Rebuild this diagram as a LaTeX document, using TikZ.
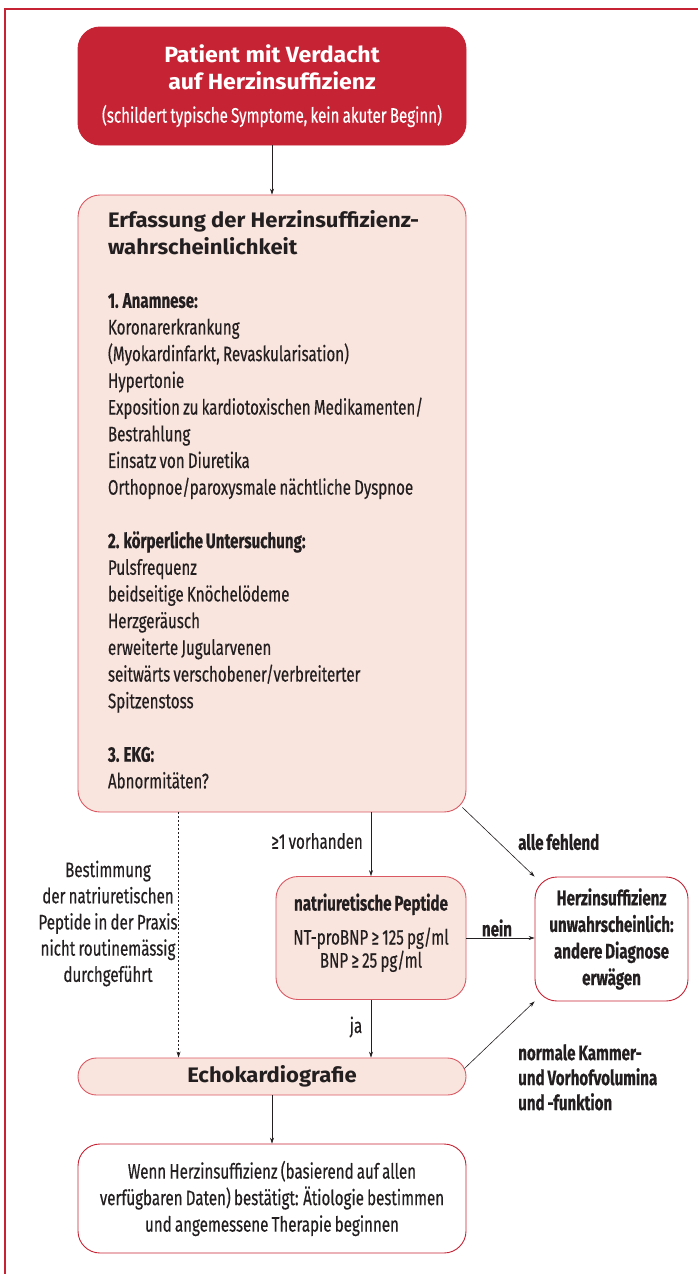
\documentclass[tikz,border=0pt]{standalone}
\usepackage{fontspec}
\setmainfont{Fira Sans}[FakeStretch=0.72,WordSpace=0.8,FakeBold=0.4]
\newfontfamily\widefont{Fira Sans}[FakeStretch=1.05]
\usetikzlibrary{arrows.meta}
\definecolor{hfred}{RGB}{198,35,52}
\definecolor{hfpink}{RGB}{249,229,222}
\definecolor{hfline}{RGB}{218,88,98}
\definecolor{hftext}{RGB}{35,31,32}

\begin{document}
\begin{tikzpicture}[x=1pt,y=-1pt,
  box/.style={rounded corners=22pt,draw=hfred,line width=0.9pt,align=flush center,text=hftext,inner sep=0pt},
  pinkbox/.style={box,fill=hfpink,draw=hfline},
  arr/.style={-{Stealth[length=6pt,width=4pt]},line width=0.6pt,draw=hftext},
  lbl/.style={text=hftext,align=center,inner sep=0pt},
  body/.style={font=\fontsize{21}{26.7}\selectfont}]
\useasboundingbox (0,0) rectangle (698,1274);
\draw[hfred,line width=1.4pt] (5,1274) -- (5,9) -- (698,9);
\node[box,fill=hfred,text=white,minimum width=388,minimum height=118,text width=380,font=\fontsize{21}{27}\selectfont] (patient) at (272,86)
  {{\widefont\bfseries\fontsize{22}{27}\selectfont Patient mit Verdacht}\\
   {\widefont\bfseries\fontsize{22}{27}\selectfont auf Herzinsuffizienz}\\[6pt]
   (schildert typische Symptome, kein akuter Beginn)};
\node[pinkbox,body,align=flush left,minimum width=388,minimum height=617,text width=328,inner xsep=30] (assess) at (272,503.5)
  {{\widefont\bfseries Erfassung der Herzinsuffizienz-\\wahrscheinlichkeit}\\
   \mbox{}\\
   \textbf{1. Anamnese:}\\
   Koronarerkrankung\\
   (Myokardinfarkt, Revaskularisation)\\
   Hypertonie\\
   Exposition zu kardiotoxischen Medikamenten/\\
   Bestrahlung\\
   Einsatz von Diuretika\\
   Orthopnoe/paroxysmale nächtliche Dyspnoe\\
   \mbox{}\\
   \textbf{2. körperliche Untersuchung:}\\
   Pulsfrequenz\\
   beidseitige Knöchelödeme\\
   Herzgeräusch\\
   erweiterte Jugularvenen\\
   seitwärts verschobener/verbreiterter\\
   Spitzenstoss\\
   \mbox{}\\
   \textbf{3. EKG:}\\
   Abnormitäten?\rule[-8pt]{0pt}{8pt}};
\node[pinkbox,minimum width=190,minimum height=123,text width=180,font=\fontsize{21}{23}\selectfont] (natri) at (371,938)
  {\textbf{natriuretische Peptide}\\[11pt]NT-proBNP ≥ 125 pg/ml\\BNP ≥ 25 pg/ml\rule[-15pt]{0pt}{15pt}};
\node[box,fill=white,minimum width=153,minimum height=124,text width=150,font=\fontsize{21}{26.6}\selectfont\bfseries] (herz) at (611.5,939)
  {Herzinsuffizienz\\unwahrscheinlich:\\andere Diagnose\\erwägen};
\node[pinkbox,rounded corners=18.5pt,minimum width=388,minimum height=37] (echo) at (272,1076.5)
  {\widefont\bfseries\fontsize{21}{25}\selectfont Echokardiografie};
\node[box,fill=white,minimum width=388,minimum height=109,text width=370,font=\fontsize{21}{26.5}\selectfont] (final) at (272,1198.5)
  {Wenn Herzinsuffizienz (basierend auf allen\\verfügbaren Daten) bestätigt: Ätiologie bestimmen\\und angemessene Therapie beginnen};
\node[lbl,font=\fontsize{21}{26.2}\selectfont] (praxis) at (108,923.5)
  {Bestimmung\\der natriuretischen\\Peptide in der Praxis\\nicht routinemässig\\durchgeführt};
\node[lbl,body,anchor=east] (vorh) at (363,841) {≥1 vorhanden};
\node[lbl,font=\fontsize{21}{26.7}\selectfont\bfseries,anchor=west] (fehlend) at (518,842) {alle fehlend};
\node[lbl,font=\fontsize{21}{26.7}\selectfont\bfseries] (nein) at (497,928) {nein};
\node[lbl,body] (ja) at (356,1027) {ja};
\node[lbl,align=left,anchor=north west,font=\fontsize{21}{25}\selectfont\bfseries] (normal) at (518,1044)
  {normale Kammer-\\und Vorhofvolumina\\und -funktion};
\draw[arr] (patient.south) -- (assess.north);
\draw[arr] (natri.north |- assess.south) -- (natri.north);
\draw[arr] ([shift={(-4,-5)}]assess.south east) -- (herz.north west);
\draw[arr] (natri.east) -- (natri.east -| herz.west);
\draw[arr] (natri.south) -- (natri.south |- echo.north);
\draw[arr,dash pattern=on 2pt off 2pt] ([xshift=101pt]assess.south west) -- ([xshift=101pt]echo.north west);
\draw[arr] ([shift={(-2,-8)}]echo.east) -- (herz.south west);
\draw[arr] (echo.south) -- (final.north);
\end{tikzpicture}
\end{document}
